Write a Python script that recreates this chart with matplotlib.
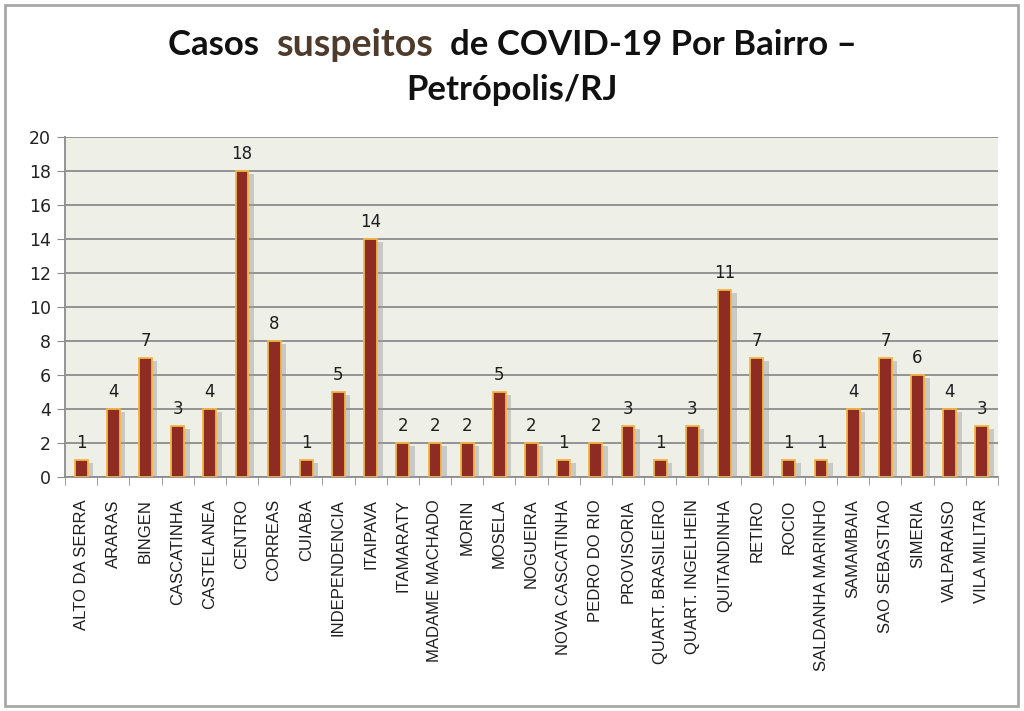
import matplotlib
matplotlib.use("Agg")
import matplotlib.pyplot as plt
from matplotlib import patheffects
from matplotlib.patches import Rectangle
import numpy as np

bairros = ["ALTO DA SERRA", "ARARAS", "BINGEN", "CASCATINHA", "CASTELANEA", "CENTRO",
           "CORREAS", "CUIABA", "INDEPENDENCIA", "ITAIPAVA", "ITAMARATY", "MADAME MACHADO",
           "MORIN", "MOSELA", "NOGUEIRA", "NOVA CASCATINHA", "PEDRO DO RIO", "PROVISORIA",
           "QUART. BRASILEIRO", "QUART. INGELHEIN", "QUITANDINHA", "RETIRO", "ROCIO",
           "SALDANHA MARINHO", "SAMAMBAIA", "SAO SEBASTIAO", "SIMERIA", "VALPARAISO",
           "VILA MILITAR"]
casos = [1, 4, 7, 3, 4, 18, 8, 1, 5, 14, 2, 2, 2, 5, 2, 1, 2, 3, 1, 3, 11, 7, 1, 1, 4, 7, 6, 4, 3]
yticks = [0, 2, 4, 6, 8, 10, 12, 14, 16, 18, 20]

fig = plt.figure(figsize=(10.24, 7.11), dpi=100)
fig.patch.set_facecolor("white")
fig.patches.append(Rectangle((5/1024, 5/711), 1013/1024, 701/711, transform=fig.transFigure,
                             fill=False, edgecolor="#A8A8A8", linewidth=2))

ax = fig.add_axes([65/1024, 1-477/711, (998-65)/1024, (477-137)/711])
ax.set_facecolor("#EEF0E7")
x = np.arange(len(bairros))
bars = ax.bar(x, casos, width=0.4, color="#8E2B22", edgecolor="#F2B646", linewidth=1.3, zorder=3)
for b in bars:
    b.set_path_effects([patheffects.SimplePatchShadow(offset=(4, -2), shadow_rgbFace="#9A9A9A", alpha=0.45),
                        patheffects.Normal()])
for xi, v in zip(x, casos):
    ax.annotate(str(v), (xi, v), xytext=(0, 6), textcoords="offset points", ha="center", va="bottom",
                fontsize=12, color="#1E1E1E", family="DejaVu Sans")

ax.set_xlim(-0.5, len(bairros) - 0.5)
ax.set_ylim(0, 20)
ax.set_yticks(yticks)
ax.set_yticklabels([str(t) for t in yticks], fontsize=12.5, color="#222222")
ax.yaxis.grid(True, color="#8C8C8C", linewidth=1.3, zorder=0)
ax.set_axisbelow(True)
ax.set_xticks(x)
ax.set_xticklabels(bairros, rotation=90, fontsize=12, color="#1E1E1E", family="Liberation Sans")
ax.set_xticks(np.arange(len(bairros) + 1) - 0.5, minor=True)
ax.tick_params(axis="x", which="major", length=0, pad=16)
ax.tick_params(axis="x", which="minor", length=6, color="#8C8C8C", direction="out")
ax.tick_params(axis="y", length=6, color="#8C8C8C", direction="out", pad=4)
for s in ["top", "right"]:
    ax.spines[s].set_visible(False)
for s in ["left", "bottom"]:
    ax.spines[s].set_color("#8C8C8C")
    ax.spines[s].set_linewidth(1.3)

# Title with mixed colours
renderer = fig.canvas.get_renderer()
parts = [("Casos  ", "#111111", 25), ("suspeitos", "#4E3B2B", 27), ("  de COVID-19 Por Bairro \u2013", "#111111", 25)]
texts = []
widths = []
for s, c, fs in parts:
    t = fig.text(0, 1 - 45/711, s, color=c, fontsize=fs, fontweight="bold", family="Lato",
                 va="center", ha="left")
    texts.append(t)
    widths.append(t.get_window_extent(renderer).width)
total = sum(widths)
start = 512 - total / 2
for t, w in zip(texts, widths):
    t.set_x(start / 1024)
    start += w
fig.text(512/1024, 1 - 90/711, "Petrópolis/RJ", color="#111111", fontsize=25, fontweight="bold",
         family="Lato", ha="center", va="center")

fig.savefig("out.png", dpi=100)
